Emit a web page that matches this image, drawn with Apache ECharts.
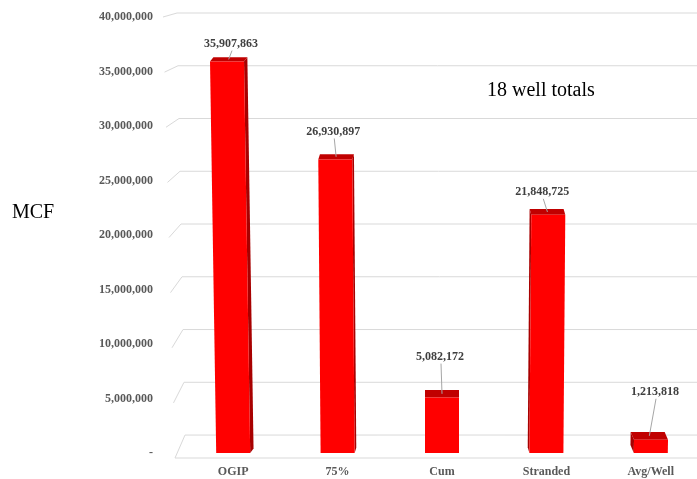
<!DOCTYPE html>
<html><head><meta charset="utf-8">
<script src="https://cdn.jsdelivr.net/npm/echarts@6/dist/echarts.min.js"></script>
<style>html,body{margin:0;padding:0;background:#fff}#c{width:697px;height:479px}</style>
</head><body><div id="c"></div>
<script>
// ---- data ----
const categories = ['OGIP', '75%', 'Cum', 'Stranded', 'Avg/Well'];
const values = [35907863, 26930897, 5082172, 21848725, 1213818];
const yTicks = [0, 5000000, 10000000, 15000000, 20000000, 25000000, 30000000, 35000000, 40000000];
const axisTitle = 'MCF';
const chartNote = '18 well totals';

// ---- layout / style config (not data) ----
const labelLift = [18, 28, 41, 23, 48];
const labelShift = [4, -2, -2, -6, 4];
const VANISH_X = 442;
const FONT = '"Liberation Serif", "Times New Roman", serif';
const fmt = v => v === 0 ? '-' : v.toLocaleString('en-US');

const chart = echarts.init(document.getElementById('c'), null, {renderer: 'canvas'});

function renderGridLine(params, api) {
  const v = api.value(1);
  const p = api.coord([0, v]);
  const cs = params.coordSys;
  const fy = p[1];
  const t = (cs.y + cs.height - fy) / cs.height;
  const backY = cs.y - 4 + (fy - cs.y) * 0.968;
  const frontY = fy + 5 * (1 - t);
  const frontX = cs.x - 6 - 12 * t;
  const backX = cs.x + 4 - 8 * t;
  const right = api.getWidth();
  const style = {stroke: '#D9D9D9', lineWidth: 1, fill: null};
  const children = [
    {type: 'polyline', shape: {points: [[frontX, frontY], [backX, backY], [right, backY]]}, style: style}
  ];
  if (v === 0) {
    children.push({type: 'line', shape: {x1: frontX, y1: frontY, x2: right, y2: frontY}, style: style});
  }
  return {type: 'group', children: children};
}

function renderBar(params, api) {
  const i = api.value(0), v = api.value(1);
  const top = api.coord([i, v]), base = api.coord([i, 0]);
  const cs = params.coordSys;
  const w = 34;
  const h = base[1] - top[1];
  const lean = (base[0] - VANISH_X) * (h / cs.height) * 0.033;
  const bl = base[0] - w / 2, br = base[0] + w / 2;
  const tc = top[0] + lean;
  const tl = tc - w / 2, tr = tc + w / 2;
  const ty = top[1], by = base[1];
  const depth = 4 + 4 * (ty - cs.y) / cs.height;
  const dx = (VANISH_X - base[0]) * 0.016;
  const children = [];
  if (dx > 0.5) {
    children.push({type: 'polygon', shape: {points: [[tr, ty], [tr + dx, ty - depth], [br + dx, by - depth], [br, by]]}, style: {fill: '#A80000'}});
  } else if (dx < -0.5) {
    children.push({type: 'polygon', shape: {points: [[tl, ty], [tl + dx, ty - depth], [bl + dx, by - depth], [bl, by]]}, style: {fill: '#A80000'}});
  }
  children.push({type: 'polygon', shape: {points: [[tl, ty], [tr, ty], [tr + dx, ty - depth], [tl + dx, ty - depth]]}, style: {fill: '#C00000'}});
  children.push({type: 'polygon', shape: {points: [[bl, by], [br, by], [tr, ty], [tl, ty]]}, style: {fill: '#FF0000'}});
  const lx = tc + labelShift[i], ly = ty - labelLift[i];
  children.push({type: 'line', shape: {x1: lx + 1, y1: ly + 7, x2: tc + dx / 2, y2: ty - depth / 2},
    style: {stroke: '#A6A6A6', lineWidth: 1}});
  children.push({type: 'text', x: lx, y: ly, style: {text: fmt(v), fill: '#404040',
    font: 'bold 12px ' + FONT, align: 'center', verticalAlign: 'middle'}});
  return {type: 'group', children: children};
}

chart.setOption({
  animation: false,
  backgroundColor: '#fff',
  grid: {left: 181, right: -6, top: 17, bottom: 26, containLabel: false, outerBoundsMode: 'none'},
  xAxis: {
    type: 'category', data: categories,
    axisLine: {show: false}, axisTick: {show: false}, splitLine: {show: false},
    axisLabel: {margin: 13, color: '#595959', fontWeight: 'bold', fontSize: 12, fontFamily: FONT}
  },
  yAxis: {
    type: 'value', min: yTicks[0], max: yTicks[yTicks.length - 1], interval: yTicks[1] - yTicks[0],
    axisLine: {show: false}, axisTick: {show: false}, splitLine: {show: false},
    axisLabel: {margin: 28, color: '#595959', fontWeight: 'bold', fontSize: 12, fontFamily: FONT,
      formatter: v => fmt(v)}
  },
  graphic: [
    {type: 'text', left: 12, top: 203, style: {text: axisTitle, fill: '#000', font: '20px ' + FONT}},
    {type: 'text', left: 487, top: 81, style: {text: chartNote, fill: '#000', font: '20px ' + FONT}}
  ],
  series: [
    {type: 'custom', z: 1, clip: false, renderItem: renderGridLine,
      data: yTicks.map(v => [0, v]), encode: {x: 0, y: 1}, silent: true},
    {type: 'custom', z: 2, clip: false, renderItem: renderBar,
      data: values.map((v, i) => [i, v]), encode: {x: 0, y: 1}}
  ]
});
</script>
</body></html>
